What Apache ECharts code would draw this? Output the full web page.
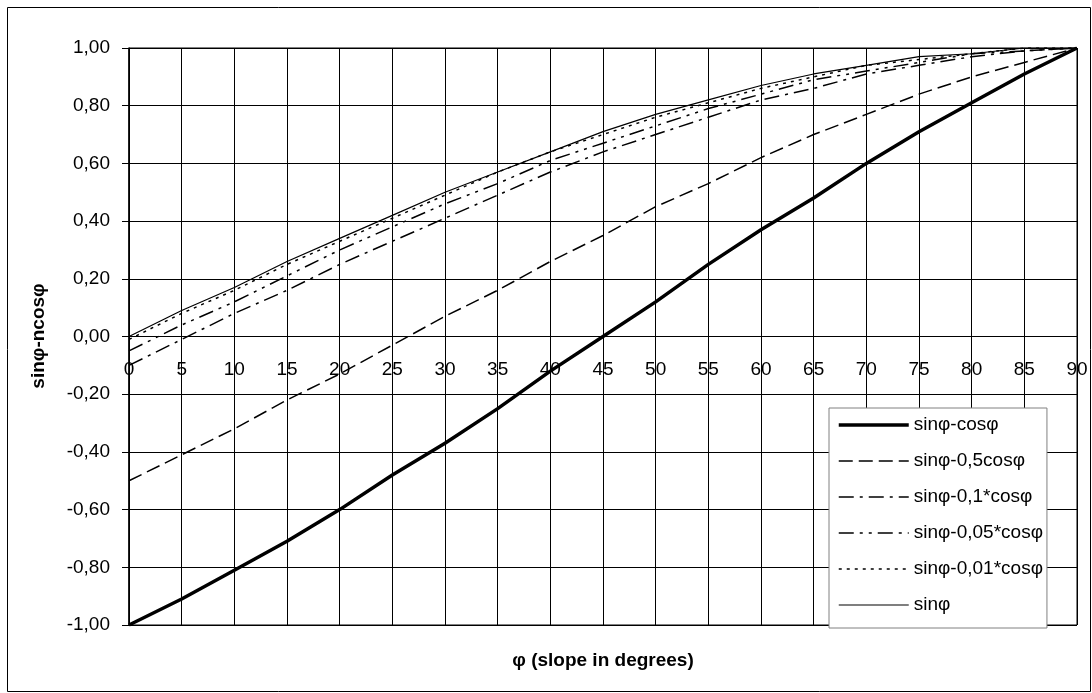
<!DOCTYPE html>
<html>
<head>
<meta charset="utf-8">
<script src="https://cdn.jsdelivr.net/npm/echarts@6/dist/echarts.min.js"></script>
<style>
html,body{margin:0;padding:0;background:#fff;}
#c{width:1092px;height:693px;}
</style>
</head>
<body>
<div id="c"></div>
<script>
// x categories (slope in degrees)
const degrees = ['0','5','10','15','20','25','30','35','40','45','50','55','60','65','70','75','80','85','90'];
// series values
const sinMinusCos   = [-1.00,-0.91,-0.81,-0.71,-0.60,-0.48,-0.37,-0.25,-0.12,0.00,0.12,0.25,0.37,0.48,0.60,0.71,0.81,0.91,1.00];
const sinMinus05Cos = [-0.50,-0.41,-0.32,-0.22,-0.13,-0.03,0.07,0.16,0.26,0.35,0.45,0.53,0.62,0.70,0.77,0.84,0.90,0.95,1.00];
const sinMinus01Cos = [-0.10,-0.01,0.08,0.16,0.25,0.33,0.41,0.49,0.57,0.64,0.70,0.76,0.82,0.86,0.91,0.94,0.97,0.99,1.00];
const sinMinus005Cos= [-0.05,0.04,0.12,0.21,0.30,0.38,0.46,0.53,0.61,0.67,0.73,0.79,0.84,0.89,0.92,0.95,0.98,0.99,1.00];
const sinMinus001Cos= [-0.01,0.08,0.16,0.25,0.33,0.41,0.49,0.57,0.64,0.70,0.76,0.81,0.86,0.90,0.94,0.96,0.98,1.00,1.00];
const sinOnly       = [0.00,0.09,0.17,0.26,0.34,0.42,0.50,0.57,0.64,0.71,0.77,0.82,0.87,0.91,0.94,0.97,0.98,1.00,1.00];
const seriesNames = ['sinφ-cosφ','sinφ-0,5cosφ','sinφ-0,1*cosφ','sinφ-0,05*cosφ','sinφ-0,01*cosφ','sinφ'];

const FONT = 'Liberation Sans, Arial, sans-serif';
const chart = echarts.init(document.getElementById('c'), null, {renderer:'canvas'});

const styles = [
  {width:3.5, type:'solid'},
  {width:1.5, type:[14,6]},
  {width:1.5, type:[15,6,3,6]},
  {width:1.5, type:[15,6,3,6,3,6]},
  {width:1.5, type:[3,5]},
  {width:1.2, type:'solid'}
];
const allData = [sinMinusCos, sinMinus05Cos, sinMinus01Cos, sinMinus005Cos, sinMinus001Cos, sinOnly];

const series = seriesNames.map(function(n, i){
  return {
    name:n, type:'line', data:allData[i], symbol:'none', showSymbol:false,
    lineStyle:{color:'#000', width:styles[i].width, type:styles[i].type},
    itemStyle:{color:'#000'},
    emphasis:{disabled:true}, animation:false
  };
});
const legendData = seriesNames.map(function(n, i){
  return {name:n,
    itemStyle:{opacity:0},
    lineStyle:{color:'#000', opacity:1, width:styles[i].width, type:styles[i].type}};
});

chart.setOption({
  animation:false,
  backgroundColor:'#fff',
  grid:{left:129, top:48, right:15, bottom:68, show:true, borderColor:'#000', borderWidth:1, containLabel:false},
  graphic:[
    {type:'rect', shape:{x:7.5,y:7.5,width:1083,height:684}, style:{fill:null, stroke:'#000', lineWidth:1}, z:-10, silent:true},
    {type:'text', x:603, y:661, style:{text:'φ (slope in degrees)', font:'bold 19px '+FONT, fill:'#000', align:'center', verticalAlign:'middle'}},
    {type:'text', x:39, y:336, rotation:Math.PI/2, style:{text:'sinφ-ncosφ', font:'bold 19px '+FONT, fill:'#000', align:'center', verticalAlign:'middle'}}
  ],
  legend:{
    orient:'vertical', left:829, top:408,
    data: legendData,
    itemWidth:70, itemHeight:20, itemGap:16,
    padding:[7,4,13,8],
    backgroundColor:'#fff', borderColor:'#808080', borderWidth:1, borderRadius:0,
    textStyle:{fontFamily:FONT, fontSize:19, color:'#000', lineHeight:20},
    selectedMode:false
  },
  xAxis:{
    type:'category', data:degrees, boundaryGap:false,
    position:'bottom', offset:-288.5,
    axisLine:{onZero:false, lineStyle:{color:'#000', width:1}},
    axisTick:{show:true, length:6, lineStyle:{color:'#000'}},
    axisLabel:{fontFamily:FONT, fontSize:19, color:'#000', margin:24, interval:0},
    splitLine:{show:true, lineStyle:{color:'#000', width:1}}
  },
  yAxis:{
    type:'value', min:-1, max:1, interval:0.2,
    axisLine:{show:true, lineStyle:{color:'#000', width:1.5}},
    axisTick:{show:true, length:7, lineStyle:{color:'#000'}},
    axisLabel:{fontFamily:FONT, fontSize:19, color:'#000', margin:19,
      formatter:function(v){ if(Math.abs(v)<1e-9) v=0; return v.toFixed(2).replace('.',','); }},
    splitLine:{show:true, lineStyle:{color:'#000', width:1}}
  },
  series:series
});
</script>
</body>
</html>
